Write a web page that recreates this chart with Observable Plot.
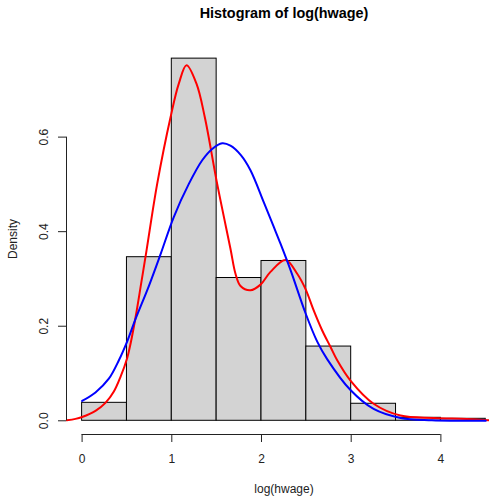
<!DOCTYPE html>
<html>
<head>
<meta charset="utf-8">
<script src="https://cdn.jsdelivr.net/npm/d3@7"></script>
<script src="https://cdn.jsdelivr.net/npm/@observablehq/plot@0.6"></script>
<style>
  html, body { margin: 0; padding: 0; background: #fff; }
  #chart svg { display: block; }
</style>
</head>
<body>
<div id="chart"></div>
<script>
// Histogram of log(hwage): bin edges and density heights
const breaks = [0, 0.5, 1, 1.5, 2, 2.5, 3, 3.5, 4, 4.5];
const density = [0.038, 0.346, 0.766, 0.302, 0.338, 0.157, 0.036, 0.0063, 0.0042];

// Kernel density estimate (red)
const kdeX = [-0.17, -0.074, 0, 0.149, 0.26, 0.354, 0.428, 0.503, 0.54, 0.595, 0.658, 0.718,
  0.837, 0.986, 1.078, 1.164, 1.275, 1.368, 1.506, 1.654, 1.71, 1.766, 1.877, 1.989, 2.1,
  2.268, 2.398, 2.49, 2.583, 2.677, 2.77, 2.844, 2.992, 3.25, 3.55, 3.92, 4.29, 4.54];
const kdeY = [0.001, 0.004, 0.008, 0.021, 0.038, 0.062, 0.093, 0.133, 0.163, 0.218, 0.29, 0.36,
  0.501, 0.642, 0.713, 0.752, 0.713, 0.642, 0.501, 0.364, 0.311, 0.285, 0.276, 0.288, 0.315,
  0.34, 0.311, 0.279, 0.233, 0.191, 0.156, 0.128, 0.085, 0.036, 0.011, 0.006, 0.004, 0.001];

// Fitted normal density (blue)
const normX = [0, 0.149, 0.298, 0.41, 0.503, 0.595, 0.744, 0.874, 1.022, 1.19, 1.339, 1.45,
  1.562, 1.654, 1.77, 1.877, 2.026, 2.137, 2.213, 2.325, 2.49, 2.62, 2.73, 2.992, 3.25,
  3.55, 3.9, 4.5];
const normY = [0.042, 0.06, 0.089, 0.128, 0.168, 0.215, 0.285, 0.352, 0.431, 0.501, 0.551, 0.575,
  0.587, 0.582, 0.562, 0.53, 0.462, 0.41, 0.374, 0.318, 0.228, 0.168, 0.131, 0.065, 0.025,
  0.006, 0.0012, 0.0];

const xTicks = [0, 1, 2, 3, 4];
const yTicks = [0, 0.2, 0.4, 0.6];

const bins = density.map((d, i) => ({x1: breaks[i], x2: breaks[i + 1], y: d}));
const kde = kdeX.map((x, i) => ({x, y: kdeY[i]}));
const norm = normX.map((x, i) => ({x, y: normY[i]}));

const xDomain = [-0.174, 4.542];
const yDomain = [-0.029, 0.798];
const font = "'Liberation Sans', Arial, Helvetica, sans-serif";

const chart = Plot.plot({
  width: 489,
  height: 496,
  marginLeft: 66,
  marginRight: 0,
  marginTop: 43,
  marginBottom: 62,
  style: {fontFamily: font, fontSize: "12px", color: "#000", background: "#fff", overflow: "visible"},
  x: {domain: xDomain, axis: null},
  y: {domain: yDomain, axis: null},
  marks: [
    Plot.rectY(bins, {x1: "x1", x2: "x2", y: "y", fill: "#d3d3d3", stroke: "#000", strokeWidth: 1}),
    Plot.line(kde, {x: "x", y: "y", stroke: "#ff0000", strokeWidth: 2, curve: "catmull-rom", clip: true}),
    Plot.line(norm, {x: "x", y: "y", stroke: "#0000ff", strokeWidth: 2, curve: "catmull-rom", clip: true}),
    // axis lines spanning first to last tick
    Plot.ruleY([yDomain[0]], {x1: xTicks[0], x2: xTicks[xTicks.length - 1], stroke: "#222", strokeWidth: 1}),
    Plot.ruleX([xDomain[0]], {y1: yTicks[0], y2: yTicks[yTicks.length - 1], stroke: "#222", strokeWidth: 1}),
    Plot.axisX(xTicks, {anchor: "bottom", label: null, tickSize: 8, tickFormat: () => "", stroke: "#222"}),
    Plot.axisY(yTicks, {anchor: "left", label: null, tickSize: 8, tickFormat: () => "", stroke: "#222"}),
    Plot.text(xTicks, {x: d => d, frameAnchor: "bottom", dy: 25, lineAnchor: "middle", text: d => String(d), fontSize: 12, fill: "#222"}),
    Plot.text(yTicks, {y: d => d, frameAnchor: "left", dx: -22, rotate: -90, lineAnchor: "middle", textAnchor: "middle", text: d => d.toFixed(1), fontSize: 12, fill: "#222"}),
    Plot.text(["log(hwage)"], {frameAnchor: "bottom", dy: 55, dx: 6, lineAnchor: "middle", text: d => d, fontSize: 12, fill: "#222"}),
    Plot.text(["Density"], {frameAnchor: "left", dx: -53, rotate: -90, lineAnchor: "middle", textAnchor: "middle", text: d => d, fontSize: 12, fill: "#222"}),
    Plot.text(["Histogram of log(hwage)"], {frameAnchor: "top", dy: -30, dx: 6, lineAnchor: "middle", text: d => d, fontSize: 14.4, fontWeight: "bold", fill: "#000"})
  ]
});
document.getElementById("chart").appendChild(chart);
</script>
</body>
</html>
